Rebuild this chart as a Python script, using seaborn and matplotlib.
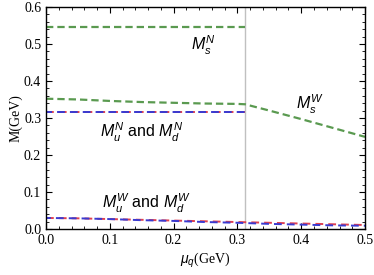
import matplotlib
matplotlib.use("Agg")
import matplotlib.pyplot as plt
import seaborn as sns
from matplotlib.ticker import MultipleLocator

# data
mu_n = [0.0, 0.05, 0.1, 0.15, 0.2, 0.25, 0.3, 0.312]
ms_n = [0.547, 0.547, 0.547, 0.547, 0.547, 0.547, 0.547, 0.547]
mud_n = [0.315, 0.315, 0.315, 0.315, 0.315, 0.315, 0.315, 0.315]

mu_sw = [0.0, 0.05, 0.1, 0.15, 0.2, 0.25, 0.3, 0.312, 0.35, 0.4, 0.45, 0.5]
ms_w = [0.352, 0.350, 0.346, 0.343, 0.341, 0.339, 0.338, 0.337, 0.320, 0.297, 0.273, 0.249]

mu_w = [0.0, 0.05, 0.1, 0.15, 0.2, 0.25, 0.3, 0.35, 0.4, 0.45, 0.5]
mu_u_w = [0.030, 0.029, 0.027, 0.025, 0.023, 0.021, 0.019, 0.017, 0.015, 0.013, 0.011]
md_w = [0.030, 0.029, 0.027, 0.024, 0.022, 0.019, 0.017, 0.014, 0.012, 0.010, 0.009]

mu_c = 0.312

sns.set_style("ticks")
plt.rcParams['font.family'] = ['Liberation Serif', 'DejaVu Serif']
plt.rcParams['mathtext.fontset'] = 'custom'
plt.rcParams['mathtext.rm'] = 'Liberation Sans'
plt.rcParams['mathtext.it'] = 'Liberation Sans:italic'
for k in ['text.color', 'axes.labelcolor', 'xtick.color', 'ytick.color', 'axes.edgecolor']:
    plt.rcParams[k] = 'black'

green = '#5a9a50'
red = '#e04050'
blue = '#3a3ad0'

fig = plt.figure(figsize=(3.74, 2.75), dpi=100)
ax = fig.add_axes([0.123, 0.167, 0.853, 0.808])

ax.axvline(mu_c, color='#c0c0c0', lw=1.0, zorder=1)

# (x, y, colour, line width, dash pattern)
curves = [
    (mu_n, ms_n, green, 1.6, (0, (3.3, 1.8))),
    (mu_sw, ms_w, green, 1.6, (0, (3.3, 1.8))),
    (mu_n, mud_n, red, 1.4, (0, (4.0, 2.6))),
    (mu_n, mud_n, blue, 1.4, (0.9, (4.0, 2.6))),
    (mu_w, mu_u_w, red, 1.4, (0, (4.0, 2.6))),
    (mu_w, md_w, blue, 1.4, (1.5, (4.0, 2.6))),
]
for x, y, c, w, ls in curves:
    sns.lineplot(x=x, y=y, ax=ax, color=c, lw=w)
    ax.lines[-1].set_linestyle(ls)

ax.text(0.246, 0.495, r'$M_s^N$', fontsize=11.5, ha='center', va='center')
ax.text(0.414, 0.338, r'$M_s^W$', fontsize=11.5, ha='center', va='center')
ax.text(0.150, 0.262, r'$M_u^N$ and $M_d^N$', fontsize=11.5, ha='center', va='center',
        family='Liberation Sans')
ax.text(0.158, 0.068, r'$M_u^W$ and $M_d^W$', fontsize=11.5, ha='center', va='center',
        family='Liberation Sans')

ax.set_xlim(0, 0.5)
ax.set_ylim(0, 0.6)
ax.xaxis.set_major_locator(MultipleLocator(0.1))
ax.xaxis.set_minor_locator(MultipleLocator(0.02))
ax.yaxis.set_major_locator(MultipleLocator(0.1))
ax.yaxis.set_minor_locator(MultipleLocator(0.02))
ax.xaxis.set_major_formatter(lambda v, p: f"{v:.1f}")
ax.yaxis.set_major_formatter(lambda v, p: f"{v:.1f}")
ax.tick_params(which='both', direction='in', top=True, right=True, labelsize=10,
               color='black')
ax.tick_params(which='major', length=4, width=0.8)
ax.tick_params(which='minor', length=2, width=0.6)
for s in ax.spines.values():
    s.set_linewidth(1.0)
    s.set_color('black')

ax.set_xlabel(r'$\mu_q$(GeV)', fontsize=10, labelpad=3)
ax.set_ylabel('M(GeV)', fontsize=10, labelpad=1)

fig.savefig('out.png', dpi=100)
